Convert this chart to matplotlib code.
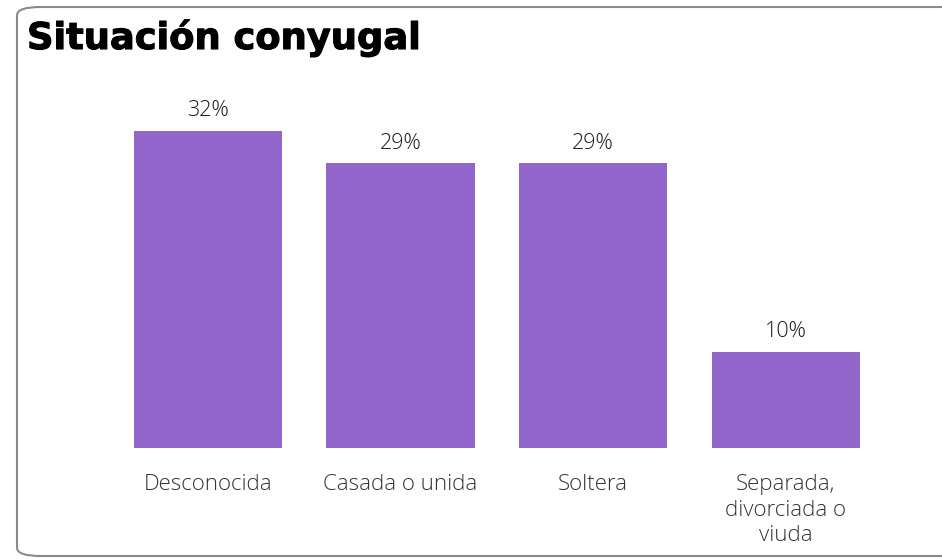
import matplotlib
matplotlib.use("Agg")
import matplotlib.pyplot as plt
import matplotlib.patheffects as pe
from matplotlib.patches import FancyBboxPatch

categories = ["Desconocida", "Casada o unida", "Soltera", "Separada,\ndivorciada o\nviuda"]
values = [32.2, 28.9, 28.9, 9.75]
value_labels = ["32%", "29%", "29%", "10%"]
title = "Situación conyugal"

W, H = 942, 559
fig = plt.figure(figsize=(W / 100, H / 100), dpi=100)
fig.patch.set_facecolor("white")

# rounded border
border = FancyBboxPatch((17 / W, 3 / H), (W + 40) / W, (549) / H,
                        boxstyle="round,pad=0,rounding_size=0.025",
                        transform=fig.transFigure, facecolor="none",
                        edgecolor="#8a8a8a", linewidth=1.5, mutation_aspect=H / W)
fig.patches.append(border)

ax_left = 111.7 / W
ax_right = 882 / W
ax_bottom = (H - 448) / H
ax_top_px = 103
ax = fig.add_axes([ax_left, ax_bottom, ax_right - ax_left, (448 - ax_top_px) / H])
ax.set_xlim(-0.5, 3.5)
ax.set_ylim(0, 345 / 9.85)

FONT = "Open Sans"
x = list(range(len(categories)))
bars = ax.bar(x, values, width=0.77, color="#9366CB")
for xi, v, lab in zip(x, values, value_labels):
    ax.annotate(lab, (xi, v), xytext=(0, 7), textcoords="offset points",
                ha="center", va="bottom", fontsize=15.5, color="#1a1a1a",
                family=FONT, fontweight="light")

ax.set_xticks(x)
ax.set_xticklabels(categories, fontsize=16, color="#333333", family=FONT,
                   fontweight="light", linespacing=1.27, va="top")
ax.tick_params(axis="x", length=0, pad=19)
ax.set_yticks([])
for s in ax.spines.values():
    s.set_visible(False)
ax.patch.set_alpha(0)

fig.text(27 / W, 1 - 49 / H, title, fontsize=26.5, fontweight="bold",
         family="DejaVu Sans", va="baseline", ha="left", color="black",
         path_effects=[pe.withStroke(linewidth=0.8, foreground="black")])

fig.savefig("out.png", dpi=100)
